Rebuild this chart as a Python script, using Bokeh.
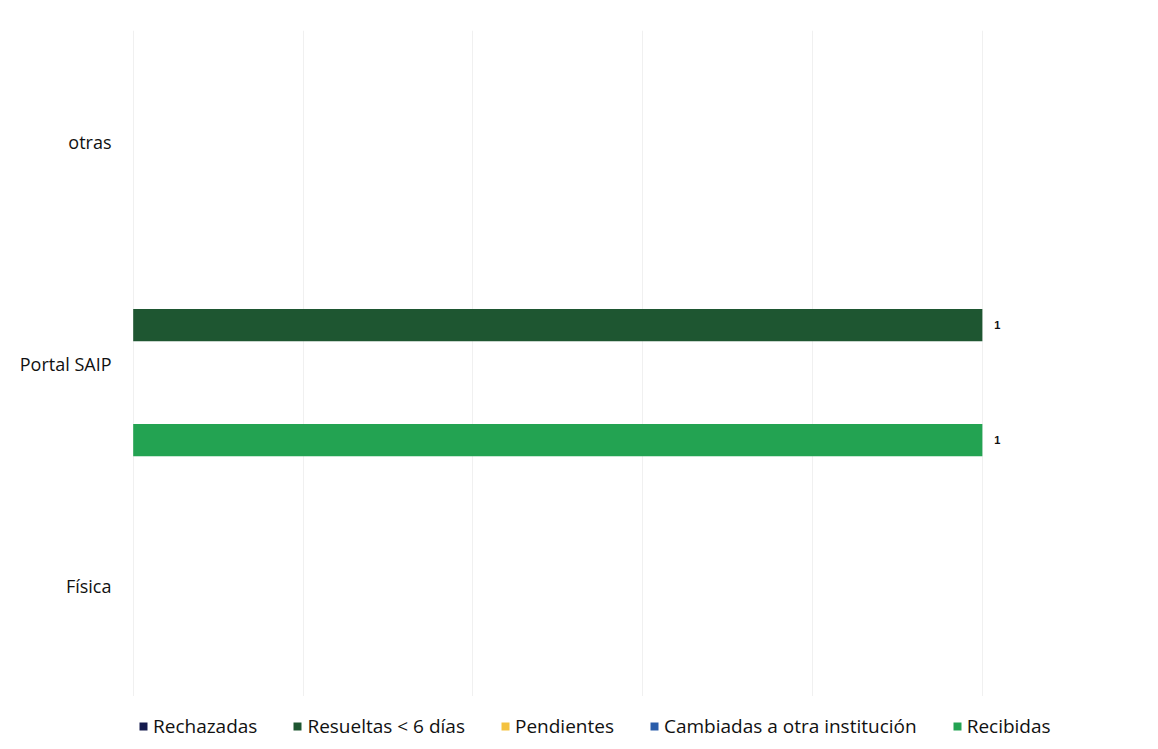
from bokeh.plotting import figure
from bokeh.models import ColumnDataSource, Range1d, FactorRange, Legend, LegendItem
from bokeh.layouts import column
from bokeh.transform import dodge
from bokeh.embed import file_html
from bokeh.resources import INLINE

# ---- data ----
categories = ["Física", "Portal SAIP", "otras"]  # bottom to top
series_names = ["Rechazadas", "Resueltas < 6 días", "Pendientes",
                "Cambiadas a otra institución", "Recibidas"]
rechazadas = [0, 0, 0]
resueltas = [0, 1, 0]
pendientes = [0, 0, 0]
cambiadas = [0, 0, 0]
recibidas = [0, 1, 0]
x_ticks = [0, 0.2, 0.4, 0.6, 0.8, 1.0, 1.2]

series_values = [rechazadas, resueltas, pendientes, cambiadas, recibidas]
colors = ["#141a4d", "#1e5631", "#f4c240", "#2a5daa", "#23a352"]
offsets = [0.345, 0.1727, 0.0, -0.1727, -0.345]

W = 1150
LEFT = 131
p = figure(width=W, height=696, output_backend="svg", toolbar_location=None,
           y_range=FactorRange(*categories), x_range=Range1d(-0.002, 1.198),
           min_border_left=LEFT, min_border_right=0, min_border_top=30,
           min_border_bottom=0)
p.outline_line_color = None
p.background_fill_color = "white"
p.xaxis.visible = False
p.xaxis.ticker = x_ticks
p.xgrid.ticker = x_ticks
p.xgrid.grid_line_color = "#f0f0f0"
p.ygrid.grid_line_color = None

p.yaxis.axis_line_color = None
p.yaxis.major_tick_line_color = None
p.yaxis.minor_tick_line_color = None
p.yaxis.major_label_text_font = "Open Sans"
p.yaxis.major_label_text_font_size = "18px"
p.yaxis.major_label_text_color = "#111111"
p.yaxis.major_label_standoff = 14

# legend-only strip below the chart
lg = figure(width=W, height=49, output_backend="svg", toolbar_location=None,
            x_range=Range1d(0, 1), y_range=Range1d(0, 1),
            min_border_left=LEFT, min_border_right=0, min_border_top=0,
            min_border_bottom=0)
lg.outline_line_color = None
lg.axis.visible = False
lg.grid.visible = False

items = []
for name, vals, col, off in zip(series_names, series_values, colors, offsets):
    src = ColumnDataSource(dict(cat=categories, val=vals))
    p.hbar(y=dodge("cat", off, range=p.y_range), right="val", left=0,
           height=0.145, source=src, fill_color=col, line_color=None)
    # swatch renderer for the legend strip (kept outside the strip's visible range)
    lr = lg.hbar(y=[-5], right=[1], left=0, height=0.1, fill_color=col, line_color=None)
    items.append(LegendItem(label=name, renderers=[lr]))
    nz = [i for i, v in enumerate(vals) if v != 0]
    if nz:
        lsrc = ColumnDataSource(dict(cat=[categories[i] for i in nz],
                                     val=[vals[i] for i in nz],
                                     txt=[str(vals[i]) for i in nz]))
        p.text(x="val", y=dodge("cat", off, range=p.y_range), text="txt",
               source=lsrc, x_offset=12, text_baseline="middle",
               text_font_size="11px", text_font_style="bold",
               text_color="#111111")

legend = Legend(items=items, orientation="horizontal", location=(138 - LEFT, 6),
                label_text_font="Open Sans", label_text_font_size="19px",
                label_text_color="#111111", glyph_width=10, glyph_height=10,
                label_standoff=5, spacing=35, border_line_color=None,
                background_fill_alpha=0, padding=0, margin=0)
lg.add_layout(legend, "center")

layout = column(p, lg, spacing=0)
open("out.html", "w").write(file_html(layout, INLINE))
